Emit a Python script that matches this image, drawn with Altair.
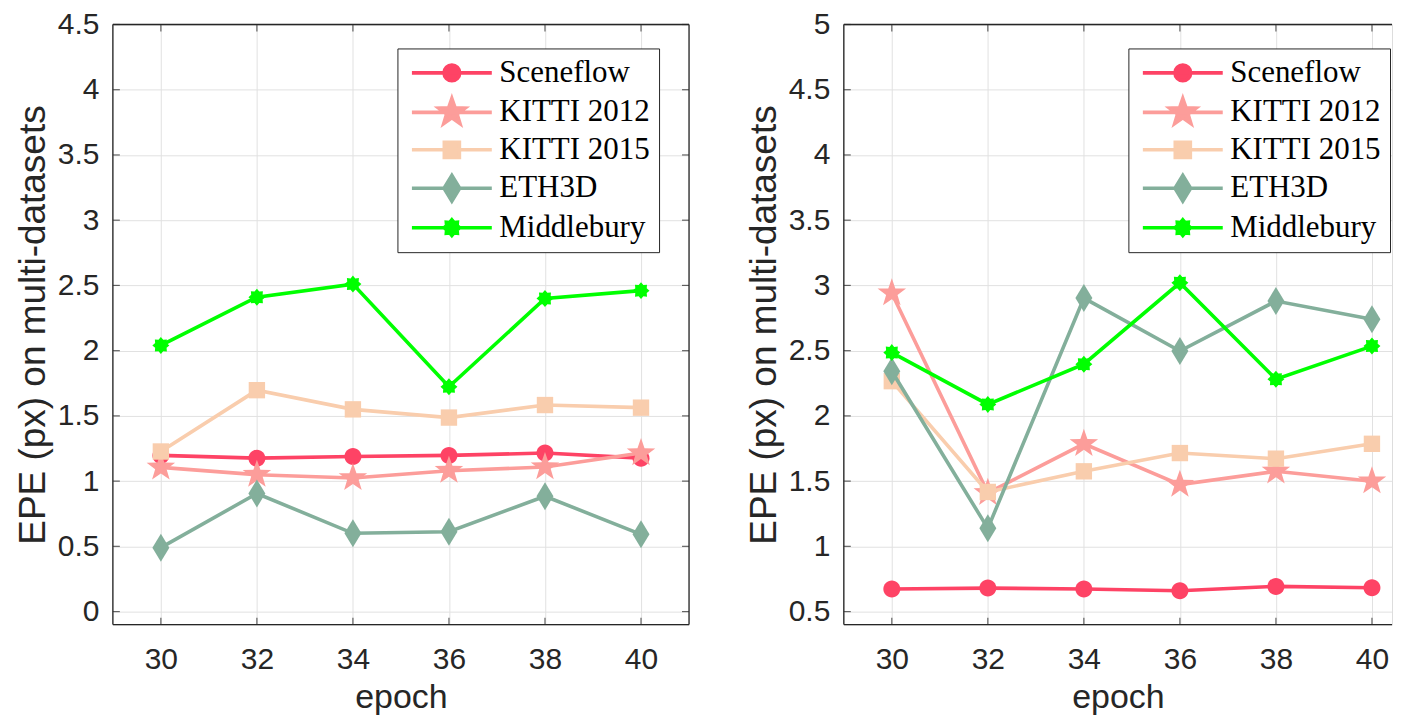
import math
import altair as alt
import pandas as pd

# ---------------- data ----------------
epochs = [30, 32, 34, 36, 38, 40]
series_names = ["Sceneflow", "KITTI 2012", "KITTI 2015", "ETH3D", "Middlebury"]
series_colors = ["#FE4365", "#FC9D9A", "#F9CDAD", "#83AF9B", "#00FF00"]

left_sceneflow = [1.197, 1.176, 1.189, 1.197, 1.215, 1.176]
left_kitti2012 = [1.105, 1.049, 1.024, 1.080, 1.108, 1.215]
left_kitti2015 = [1.227, 1.697, 1.550, 1.487, 1.583, 1.563]
left_eth3d = [0.490, 0.905, 0.600, 0.612, 0.884, 0.592]
left_middlebury = [2.040, 2.410, 2.510, 1.723, 2.400, 2.460]

right_sceneflow = [0.673, 0.680, 0.673, 0.660, 0.693, 0.683]
right_kitti2012 = [2.940, 1.410, 1.786, 1.473, 1.575, 1.499]
right_kitti2015 = [2.266, 1.417, 1.575, 1.715, 1.672, 1.786]
right_eth3d = [2.342, 1.138, 2.903, 2.497, 2.880, 2.740]
right_middlebury = [2.485, 2.088, 2.396, 3.020, 2.281, 2.535]

left_yticks = [0, 0.5, 1, 1.5, 2, 2.5, 3, 3.5, 4, 4.5]
right_yticks = [0.5, 1, 1.5, 2, 2.5, 3, 3.5, 4, 4.5, 5]

Y_TITLE = "EPE (px) on multi-datasets"
X_TITLE = "epoch"

# ---------------- style ----------------
AX_COLOR = "#262626"
GRID_COLOR = "#e1e1e1"
SANS = "Liberation Sans"
SERIF = "Liberation Serif"
LINE_W = 3.6
PANEL_H = 601


def fmt(v):
    return f"{v:.3f}"


def poly(pts):
    return "M" + "L".join(f"{fmt(x)},{fmt(y)}" for x, y in pts) + "Z"


def circle(r, cx=0.0):
    return (f"M{fmt(cx + r)},0A{fmt(r)},{fmt(r)} 0 1,1 {fmt(cx - r)},0"
            f"A{fmt(r)},{fmt(r)} 0 1,1 {fmt(cx + r)},0Z")


def star(n, ro, ri, cx=0.0):
    pts = []
    for k in range(2 * n):
        r = ro if k % 2 == 0 else ri
        a = -math.pi / 2 + k * math.pi / n
        pts.append((cx + r * math.cos(a), r * math.sin(a)))
    return poly(pts)


def square(a, cx=0.0):
    return poly([(cx - a, -a), (cx + a, -a), (cx + a, a), (cx - a, a)])


def diamond(w, h, cx=0.0):
    return poly([(cx, -h), (cx + w, 0), (cx, h), (cx - w, 0)])


def markers(k, cx=0.0):
    return [
        circle(0.85 * k, cx),
        star(5, 1.5 * k, 0.6 * k, cx),
        square(0.82 * k, cx),
        diamond(0.85 * k, 1.4 * k, cx),
        star(8, 0.85 * k, 0.62 * k, cx),
    ]


plot_shapes = markers(1.0)
legend_shapes = ["M-1,0H7" + m for m in markers(0.92, 3.0)]


def panel(values, yticks, ydomain, xdomain, width, right_frame):
    rows = []
    for name, vals in zip(series_names, values):
        for e, v in zip(epochs, vals):
            rows.append({"epoch": e, "value": v, "series": name})
    df = pd.DataFrame(rows)

    xs = alt.Scale(domain=xdomain, nice=False, zero=False)
    ys = alt.Scale(domain=ydomain, nice=False, zero=False)
    xaxis = alt.Axis(values=epochs, grid=True, gridColor=GRID_COLOR, gridWidth=1,
                     domain=False, ticks=False, labelFont=SANS, labelFontSize=30,
                     labelColor=AX_COLOR, labelPadding=20, labelFlush=False,
                     labelOverlap=False, title=X_TITLE, titleFont=SANS,
                     titleFontSize=34, titleFontWeight="normal", titleColor=AX_COLOR,
                     titlePadding=6)
    yaxis = alt.Axis(values=yticks, format="~g", grid=True, gridColor=GRID_COLOR,
                     gridWidth=1, domain=False, ticks=False, labelFont=SANS,
                     labelFontSize=30, labelColor=AX_COLOR, labelPadding=14,
                     labelFlush=False, labelOverlap=False, title=Y_TITLE,
                     titleFont=SANS, titleFontSize=37, titleFontWeight="normal",
                     titleColor=AX_COLOR, titlePadding=5)

    def X(field):
        return alt.X(f"{field}:Q", scale=xs, axis=xaxis, title=X_TITLE)

    def Y(field):
        return alt.Y(f"{field}:Q", scale=ys, axis=yaxis, title=Y_TITLE)

    layers = []
    for name, col, shp in zip(series_names, series_colors, plot_shapes):
        sub = alt.Chart(df).transform_filter(alt.datum.series == name)
        layers.append(sub.mark_line(color=col, strokeWidth=LINE_W)
                      .encode(x=X("epoch"), y=Y("value")))
        layers.append(sub.mark_point(color=col, filled=True, opacity=1, size=400,
                                     shape=shp)
                      .encode(x=X("epoch"), y=Y("value")))

    # inward tick marks (MATLAB box style)
    xt = pd.DataFrame({"tx": epochs})
    yt = pd.DataFrame({"ty": yticks})
    tick_kw = dict(color=AX_COLOR, thickness=1.2, size=7)
    layers.append(alt.Chart(xt).mark_tick(orient="vertical", **tick_kw)
                  .encode(x=X("tx"), y=alt.value(3.5)))
    layers.append(alt.Chart(xt).mark_tick(orient="vertical", **tick_kw)
                  .encode(x=X("tx"), y=alt.value(PANEL_H - 3.5)))
    layers.append(alt.Chart(yt).mark_tick(orient="horizontal", **tick_kw)
                  .encode(y=Y("ty"), x=alt.value(3.5)))
    if right_frame:
        layers.append(alt.Chart(yt).mark_tick(orient="horizontal", **tick_kw)
                      .encode(y=Y("ty"), x=alt.value(width - 3.5)))

    # frame
    fr = alt.Chart(xt.head(1))
    rule_kw = dict(color=AX_COLOR, strokeWidth=1.3)
    layers.append(fr.mark_rule(**rule_kw).encode(
        x=alt.value(0), x2=alt.value(width), y=alt.value(0)))
    layers.append(fr.mark_rule(**rule_kw).encode(
        x=alt.value(0), x2=alt.value(width), y=alt.value(PANEL_H)))
    layers.append(fr.mark_rule(**rule_kw).encode(
        x=alt.value(0), y=alt.value(0), y2=alt.value(PANEL_H)))
    if right_frame:
        layers.append(fr.mark_rule(**rule_kw).encode(
            x=alt.value(width), y=alt.value(0), y2=alt.value(PANEL_H)))

    # legend carrier (points lie outside the plot and are clipped)
    leg_df = pd.DataFrame({"lx": [epochs[0]] * len(series_names),
                           "ly": [ydomain[0] - 100] * len(series_names),
                           "series": series_names})
    legend = alt.Legend(orient="none", legendX=285, legendY=24, title=None,
                        padding=9, rowPadding=2.5, fillColor="white",
                        strokeColor=AX_COLOR, labelFont=SERIF, labelFontSize=31,
                        labelColor="black", symbolSize=400, symbolStrokeWidth=3.6,
                        labelOffset=62, symbolOpacity=1)
    dom = alt.Scale(domain=series_names, range=series_colors)
    layers.append(alt.Chart(leg_df).mark_point(filled=True, size=400, clip=True,
                                               strokeWidth=3.6, opacity=1)
                  .encode(x=X("lx"), y=Y("ly"),
                          color=alt.Color("series:N", scale=dom, legend=legend),
                          stroke=alt.Stroke("series:N", scale=dom, legend=legend),
                          shape=alt.Shape("series:N",
                                          scale=alt.Scale(domain=series_names,
                                                          range=legend_shapes),
                                          legend=legend)))

    return alt.layer(*layers).properties(width=width, height=PANEL_H)


left = panel([left_sceneflow, left_kitti2012, left_kitti2015, left_eth3d, left_middlebury],
             left_yticks, [-0.1, 4.5], [29, 41], 577, True)
right = panel([right_sceneflow, right_kitti2012, right_kitti2015, right_eth3d, right_middlebury],
              right_yticks, [0.4, 5.0], [29, 29 + 549 * 12 / 577], 549, False)

chart = (alt.hconcat(left, right, spacing=53)
         .resolve_scale(color="independent", stroke="independent", shape="independent",
                        x="independent", y="independent")
         .properties(padding={"left": 5, "top": 0, "right": 0, "bottom": 0})
         .configure_view(stroke=None)
         .configure(background="white"))

chart.save("out.html", embed_options={"renderer": "svg", "actions": False})
